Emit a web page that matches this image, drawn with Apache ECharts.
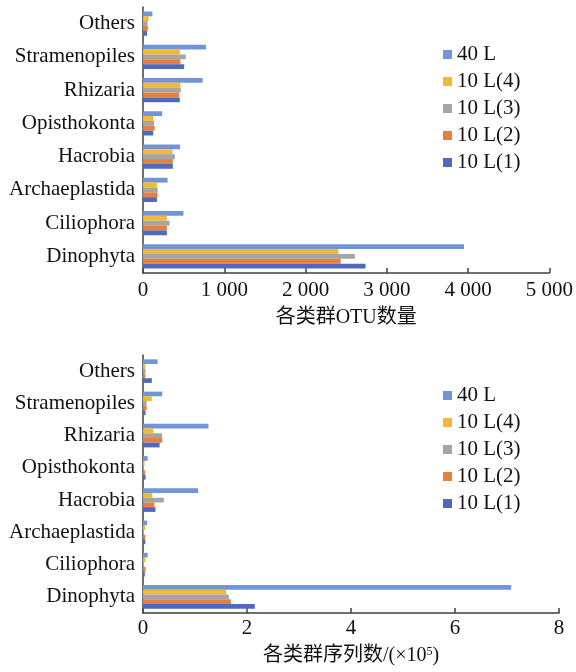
<!DOCTYPE html>
<html>
<head>
<meta charset="utf-8">
<style>
  html, body { margin: 0; padding: 0; background: #fff; }
  #chart { width: 576px; height: 672px; }
</style>
<script src="https://cdn.jsdelivr.net/npm/echarts@6/dist/echarts.min.js"></script>
</head>
<body>
<div id="chart"></div>
<script>
// Taxonomic groups, listed bottom-to-top along the category axis
const groups = ['Dinophyta', 'Ciliophora', 'Archaeplastida', 'Hacrobia',
                'Opisthokonta', 'Rhizaria', 'Stramenopiles', 'Others'];

const sampleNames = ['40 L', '10 L(4)', '10 L(3)', '10 L(2)', '10 L(1)'];
const sampleColors = ['#7195d5', '#f3b931', '#a5a5a5', '#e4813f', '#5069be'];

// OTU counts per group
const otu40L  = [3950, 498, 302, 457, 236, 734, 775, 115];
const otu10L4 = [2403, 294, 171, 363, 126, 461, 453, 70];
const otu10L3 = [2607, 327, 180, 392, 135, 465, 526, 57];
const otu10L2 = [2432, 294, 180, 367, 143, 444, 460, 60];
const otu10L1 = [2738, 294, 171, 367, 126, 453, 506, 50];

// Sequence counts per group (×10^5)
const seq40L  = [7.08, 0.09, 0.08, 1.06, 0.09, 1.26, 0.37, 0.28];
const seq10L4 = [1.60, 0.045, 0.04, 0.18, 0.03, 0.20, 0.17, 0.045];
const seq10L3 = [1.65, 0.02, 0.02, 0.40, 0.02, 0.365, 0.07, 0.05];
const seq10L2 = [1.69, 0.05, 0.045, 0.22, 0.04, 0.37, 0.07, 0.045];
const seq10L1 = [2.15, 0.035, 0.045, 0.24, 0.05, 0.32, 0.05, 0.17];

// Axis ticks
const otuTicks = { min: 0, max: 5000, interval: 1000 };
const seqTicks = { min: 0, max: 8, interval: 2 };

const otuSets = [otu40L, otu10L4, otu10L3, otu10L2, otu10L1];
const seqSets = [seq40L, seq10L4, seq10L3, seq10L2, seq10L1];

const FONT = '"Liberation Serif", "Times New Roman", "Noto Sans CJK SC", serif';
const AXIS_COLOR = '#404040';

function groupAxis(gridIndex) {
  return {
    type: 'category',
    gridIndex: gridIndex,
    data: groups,
    axisLine: { lineStyle: { color: AXIS_COLOR, width: 1.5 } },
    axisTick: { inside: true, length: 6, lineStyle: { color: '#222', width: 1.5 } },
    axisLabel: { margin: 8, color: '#111', fontSize: 21, fontFamily: FONT }
  };
}

function valueAxis(gridIndex, ticks, name, labelFmt, nameGap, labelMargin) {
  return {
    type: 'value',
    gridIndex: gridIndex,
    min: ticks.min, max: ticks.max, interval: ticks.interval,
    name: name,
    nameLocation: 'middle',
    nameGap: nameGap,
    nameTextStyle: {
      color: '#111', fontSize: 20, fontFamily: FONT,
      rich: { sup: { fontSize: 12, fontFamily: FONT, color: '#111', verticalAlign: 'top', lineHeight: 12, padding: [0, 0, 10, 0] } }
    },
    axisLine: { show: true, lineStyle: { color: AXIS_COLOR, width: 1.5 } },
    axisTick: { show: true, inside: true, length: 5, lineStyle: { color: AXIS_COLOR, width: 1.5 } },
    axisLabel: { margin: labelMargin, color: '#111', fontSize: 21, fontFamily: FONT, formatter: labelFmt },
    splitLine: { show: false }
  };
}

function thousands(v) {
  return v >= 1000 ? String(v).replace(/\B(?=(\d{3})+(?!\d))/g, ' ') : String(v);
}

function legendAt(top) {
  return {
    orient: 'vertical',
    left: 438,
    top: top,
    icon: 'rect',
    itemWidth: 9,
    itemHeight: 9,
    itemGap: 6,
    data: sampleNames,
    textStyle: { color: '#111', fontSize: 21, lineHeight: 21, fontFamily: FONT }
  };
}

const series = [];
sampleNames.forEach(function (name, i) {
  series.push({
    name: name, type: 'bar', xAxisIndex: 0, yAxisIndex: 0,
    data: otuSets[i], itemStyle: { color: sampleColors[i] },
    barGap: '0%', barCategoryGap: '27%'
  });
});
sampleNames.forEach(function (name, i) {
  series.push({
    name: name, type: 'bar', xAxisIndex: 1, yAxisIndex: 1,
    data: seqSets[i], itemStyle: { color: sampleColors[i] },
    barGap: '0%', barCategoryGap: '27%'
  });
});

const chart = echarts.init(document.getElementById('chart'), null, { renderer: 'canvas' });
chart.setOption({
  backgroundColor: '#fff',
  animation: false,
  color: sampleColors,
  grid: [
    { left: 143, top: 7, width: 409, height: 266 },
    { left: 143, top: 355, width: 416, height: 258 }
  ],
  legend: [legendAt(39), legendAt(380)],
  xAxis: [
    valueAxis(0, otuTicks, '各类群OTU数量', thousands, 35, 7),
    valueAxis(1, seqTicks, '各类群序列数/(×10{sup|5})', function (v) { return String(v); }, 33, 5)
  ],
  yAxis: [groupAxis(0), groupAxis(1)],
  series: series
});
</script>
</body>
</html>
